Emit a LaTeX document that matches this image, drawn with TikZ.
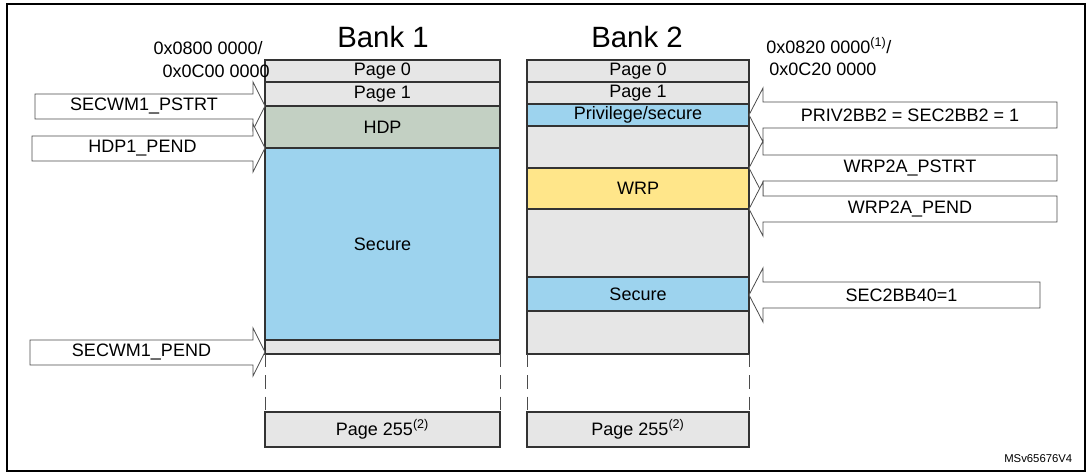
\documentclass[tikz,border=0pt]{standalone}
\usepackage{fontspec}
\setmainfont{Liberation Sans}
\definecolor{pagegrey}{HTML}{E6E6E6}
\definecolor{hdpgreen}{HTML}{C3D0C3}
\definecolor{secblue}{HTML}{9DD3EE}
\definecolor{wrpyellow}{HTML}{FFE68A}
\tikzset{
	blk/.style={draw=black!80,line width=0.8pt},
	arr/.style={draw=black!70,fill=white,line width=0.6pt},
	lbl/.style={font=\fontsize{13.5}{16}\selectfont,inner sep=0pt},
	gap/.style={black!70,dash pattern=on 10pt off 6pt},
}
% block: name, x1, y1, x2, y2, fill, text
\newcommand{\memblk}[7]
{
	\draw[blk,fill=#6] (#2,#3) rectangle (#4,#5);
	\node[lbl] (#1) at ({(#2+#4)/2},{(#3+#5)/2}) {#7}
}
% right pointing arrow: name, body left, tip x, tip y, text
\newcommand{\rarr}[5]
{
	\draw[arr] (#2,#4-12) -- (#3-12,#4-12) -- (#3-12,#4-24) -- (#3,#4) -- (#3-12,#4+24) -- (#3-12,#4+13) -- (#2,#4+13) -- cycle;
	\node[lbl] (#1) at ({(#2+#3-12)/2},#4) {#5}
}
% left pointing arrow: name, tip x, tip y, body right, text
\newcommand{\larr}[5]
{
	\draw[arr] (#4,#3-13) -- (#2+14,#3-13) -- (#2+14,#3-27) -- (#2,#3) -- (#2+14,#3+27) -- (#2+14,#3+13) -- (#4,#3+13) -- cycle;
	\node[lbl] (#1) at ({(#2+14+#4)/2},#3) {#5}
}
\begin{document}
\begin{tikzpicture}[x=0.75pt,y=-0.75pt]
	\useasboundingbox (0,0) rectangle (1087,473);
	\draw[line width=1pt] (7,4) rectangle (1085,471);
	
	%%% Bank 1
	\node[font=\fontsize{22}{26}\selectfont] (bank1) at (383,37) {Bank 1};
	\memblk{b1p0}{265}{60}{500}{82}{pagegrey}{Page 0};
	\memblk{b1p1}{265}{82}{500}{106}{pagegrey}{Page 1};
	\memblk{b1hdp}{265}{106}{500}{148}{hdpgreen}{HDP};
	\memblk{b1sec}{265}{148}{500}{340}{secblue}{Secure};
	\memblk{b1rest}{265}{340}{500}{354}{pagegrey}{};
	\memblk{b1p255}{265}{412}{500}{447}{pagegrey}{Page 255\textsuperscript{(2)}};
	\draw[gap] (265,354) -- (265,412) (500,354) -- (500,412);
	
	%%% Bank 2
	\node[font=\fontsize{22}{26}\selectfont] (bank2) at (637,37) {Bank 2};
	\memblk{b2p0}{527}{60}{749}{82}{pagegrey}{Page 0};
	\memblk{b2p1}{527}{82}{749}{104}{pagegrey}{Page 1};
	\memblk{b2priv}{527}{104}{749}{126}{secblue}{Privilege/secure};
	\memblk{b2g1}{527}{126}{749}{168}{pagegrey}{};
	\memblk{b2wrp}{527}{168}{749}{209}{wrpyellow}{WRP};
	\memblk{b2g2}{527}{209}{749}{277}{pagegrey}{};
	\memblk{b2sec}{527}{277}{749}{311}{secblue}{Secure};
	\memblk{b2g3}{527}{311}{749}{354}{pagegrey}{};
	\memblk{b2p255}{527}{412}{749}{447}{pagegrey}{Page 255\textsuperscript{(2)}};
	\draw[gap] (527,354) -- (527,412) (749,354) -- (749,412);
	
	%%% Addresses
	\node[lbl,anchor=east] (addr1a) at (263,48) {0x0800 0000/};
	\node[lbl,anchor=east] (addr1b) at (270,71) {0x0C00 0000};
	\node[lbl,anchor=west] (addr2a) at (766,46) {0x0820 0000\textsuperscript{(1)}/};
	\node[lbl,anchor=west] (addr2b) at (769,69) {0x0C20 0000};
	
	%%% Option byte arrows
	\rarr{secwm1s}{35}{265}{106}{SECWM1\_PSTRT};
	\rarr{hdp1e}{32}{265}{148}{HDP1\_PEND};
	\rarr{secwm1e}{30}{265}{352}{SECWM1\_PEND};
	\larr{priv2}{749}{115}{1057}{PRIV2BB2 = SEC2BB2 = 1};
	\larr{wrp2s}{749}{168}{1057}{WRP2A\_PSTRT};
	\larr{wrp2e}{749}{209}{1057}{WRP2A\_PEND};
	\larr{sec2}{749}{295}{1040}{SEC2BB40=1};
	
	\node[font=\fontsize{8.5}{10}\selectfont,anchor=east] (ref) at (1077,459) {MSv65676V4};
\end{tikzpicture}
\end{document}
